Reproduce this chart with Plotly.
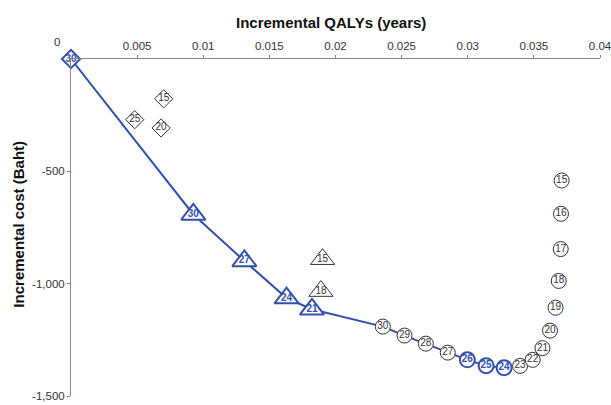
import plotly.graph_objects as go

# Incremental QALYs (years) and incremental cost (Baht) for each screening
# strategy, labelled by starting age. Three strategy groups, one marker shape each.
diamond_age = [30, 25, 15, 20]
diamond_qaly = [0.0, 0.00482, 0.00701, 0.00681]
diamond_cost = [0, -270, -177, -307]

triangle_age = [30, 27, 24, 21, 15, 18]
triangle_qaly = [0.00925, 0.01311, 0.01630, 0.01822, 0.01902, 0.01890]
triangle_cost = [-692, -899, -1064, -1114, -891, -1033]

circle_age = [30, 29, 28, 27, 26, 25, 24, 23, 22, 21, 20, 19, 18, 17, 16, 15]
circle_qaly = [0.02358, 0.02522, 0.02683, 0.02849, 0.02997, 0.03139, 0.03275, 0.03396,
               0.03491, 0.03565, 0.03622, 0.03664, 0.03688, 0.03703, 0.03705, 0.03710]
circle_cost = [-1191, -1231, -1267, -1307, -1339, -1365, -1374, -1366,
               -1339, -1287, -1209, -1107, -988, -846, -689, -541]

# Highlighted (efficient) strategies per group
efficient = {
    "diamond": [30],
    "triangle": [30, 27, 24, 21],
    "circle": [26, 25, 24],
}

# Path of the frontier line, in drawing order
frontier = [("diamond", 30), ("triangle", 30), ("triangle", 27), ("triangle", 24),
            ("triangle", 21), ("circle", 30), ("circle", 29), ("circle", 28),
            ("circle", 27), ("circle", 26), ("circle", 25), ("circle", 24)]

x_ticks = [0.005, 0.01, 0.015, 0.02, 0.025, 0.03, 0.035, 0.04]
x_tick_labels = ["0.005", "0.01", "0.015", "0.02", "0.025", "0.03", "0.035", "0.04"]
y_ticks = [-500, -1000, -1500]
y_tick_labels = ["-500", "-1,000", "-1,500"]

BLUE = "#3350ad"
DARK = "#333333"
AXIS = "#868686"
FONT = "Liberation Sans, Arial, sans-serif"

groups = {
    "diamond": (diamond_age, diamond_qaly, diamond_cost, "diamond", 14),
    "triangle": (triangle_age, triangle_qaly, triangle_cost, "triangle-up", 21),
    "circle": (circle_age, circle_qaly, circle_cost, "circle", 15),
}

fig = go.Figure()

# Frontier line
fx, fy = [], []
for g, age in frontier:
    ages, qs, cs, _, _ = groups[g]
    i = ages.index(age)
    fx.append(qs[i])
    fy.append(cs[i])
fig.add_trace(go.Scatter(x=fx, y=fy, mode="lines",
                         line=dict(color=BLUE, width=2), hoverinfo="skip"))

# Markers with the starting age written inside
for g, (ages, qs, cs, symbol, size) in groups.items():
    for highlighted in (False, True):
        idx = [i for i, a in enumerate(ages) if (a in efficient[g]) == highlighted]
        if not idx:
            continue
        color = BLUE if highlighted else DARK
        fig.add_trace(go.Scatter(
            x=[qs[i] for i in idx],
            y=[cs[i] for i in idx],
            text=[str(ages[i]) for i in idx],
            mode="markers+text",
            textposition="middle center",
            marker=dict(symbol=symbol, size=size, color="white",
                        line=dict(color=color, width=2 if highlighted else 1)),
            textfont=dict(family=FONT, size=10, color=color,
                          weight="bold" if highlighted else "normal"),
            cliponaxis=False,
        ))

fig.update_layout(
    width=611, height=405,
    margin=dict(l=70.5, r=11, t=59, b=9),
    paper_bgcolor="white", plot_bgcolor="white",
    showlegend=False,
    font=dict(family=FONT, color=DARK),
    xaxis=dict(
        side="top", range=[0, 0.04], tickvals=x_ticks, ticktext=x_tick_labels,
        ticks="outside", ticklen=3, tickcolor=AXIS, showline=True, linecolor=AXIS,
        linewidth=1, showgrid=False, zeroline=False, automargin=False,
        ticklabeloverflow="allow",
        tickfont=dict(family=FONT, size=11.5, color=DARK),
    ),
    yaxis=dict(
        range=[-1500, 0], tickvals=y_ticks, ticktext=y_tick_labels,
        ticks="outside", ticklen=3, tickcolor=AXIS, showline=True, linecolor=AXIS,
        linewidth=1, showgrid=False, zeroline=False, automargin=False,
        ticklabeloverflow="allow",
        tickfont=dict(family=FONT, size=11.5, color=DARK),
    ),
    annotations=[
        dict(text="Incremental QALYs (years)", xref="paper", yref="paper",
             x=0.491, y=1, xanchor="center", yanchor="middle", yshift=37,
             showarrow=False,
             font=dict(family=FONT, size=15, color="#111111", weight="bold")),
        dict(text="Incremental cost (Baht)", xref="paper", yref="paper",
             x=0, xshift=-52.5, y=0.51, xanchor="center", yanchor="middle",
             textangle=-90, showarrow=False,
             font=dict(family=FONT, size=15, color="#111111", weight="bold")),
        dict(text="0", xref="paper", yref="paper", x=0, xshift=-14, y=1, yshift=17,
             xanchor="center", yanchor="middle", showarrow=False,
             font=dict(family=FONT, size=11.5, color=DARK)),
    ],
)

fig.write_html("out.html")
